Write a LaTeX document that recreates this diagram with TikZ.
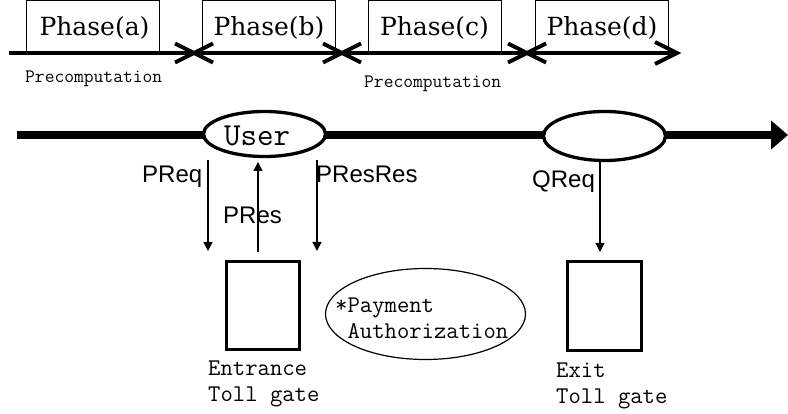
\documentclass[tikz,border=0pt]{standalone}
\usepackage{fontspec}
\newfontfamily\phasefont{DejaVu Serif}
\newfontfamily\sanslab{Liberation Sans}
\usetikzlibrary{arrows.meta,shapes.geometric,calc}
\begin{document}
\begin{tikzpicture}[x=1pt,y=-1pt,
  phasebox/.style={draw,line width=1pt,inner sep=0,minimum width=133pt,minimum height=52pt},
  phasetext/.style={font=\phasefont\fontsize{25}{27}\selectfont,anchor=base,inner sep=0},
  pretext/.style={font=\ttfamily\fontsize{19}{21}\selectfont,anchor=base west,inner sep=0},
  monotext/.style={font=\ttfamily\fontsize{24}{26}\selectfont,anchor=base west,inner sep=0,align=left},
  lbl/.style={font=\sanslab\fontsize{24}{26}\selectfont,anchor=base west,inner sep=0},
  topline/.style={line width=4pt},
  xmark/.style={line width=4pt},
  msg/.style={line width=1.3pt,-{Triangle[length=9pt,width=9pt]}},
  party/.style={ellipse,draw,line width=3.3pt,fill=white,inner sep=0},
  gate/.style={draw,line width=3.3pt,inner sep=0}
]
\useasboundingbox (0,0) rectangle (788,414);
% phase boxes
\node[phasebox] (pa) at (92.5,27) {};
\node[phasebox] (pb) at (268.5,27) {};
\node[phasebox] (pc) at (434.5,27) {};
\node[phasebox] (pd) at (601.5,27) {};
\node[phasetext] (ta) at (94.5,36) {Phase(a)};
\node[phasetext] (tb) at (269,36) {Phase(b)};
\node[phasetext] (tc) at (434.5,36) {Phase(c)};
\node[phasetext] (td) at (602,36) {Phase(d)};
% top line
\coordinate (t0) at (9,53);
\coordinate (t1) at (194,53);
\coordinate (t2) at (342,53);
\coordinate (t3) at (527,53);
\coordinate (t4) at (677,53);
\draw[topline] (t0) -- (t1) -- (t2) -- (t3) -- (t4);
\foreach \p in {t1,t2,t3}{
  \draw[xmark] ($(\p)+(-19,-9.5)$) -- ($(\p)+(19,9.5)$);
  \draw[xmark] ($(\p)+(-19,9.5)$) -- ($(\p)+(19,-9.5)$);
}
\draw[xmark] ($(t4)+(-22,-11)$) -- (t4) -- ($(t4)+(-22,11)$);
\node[pretext] (pre1) at (25,83) {Precomputation};
\node[pretext] (pre2) at (364,88) {Precomputation};
% main time line
\coordinate (m0) at (17,135);
\coordinate (m1) at (788,135);
\draw[line width=8pt,-{Triangle[length=17pt,width=28pt]}] (m0) -- (m1);
\node[party,minimum width=122pt,minimum height=45pt] (user) at (264.5,134) {};
\node[font=\ttfamily\fontsize{32}{34}\selectfont,anchor=base west,inner sep=0] (usertext) at (224,146) {User};
\node[party,minimum width=122pt,minimum height=49pt] (exitparty) at (604.5,136) {};
% gates
\node[gate,minimum width=73pt,minimum height=88pt] (entrance) at (263,305.5) {};
\node[gate,minimum width=74pt,minimum height=89pt] (exit) at (604.5,306) {};
\node[monotext] (entext) at (208,401) {Entrance\\Toll gate};
\node[monotext] (extext) at (556,403) {Exit\\Toll gate};
% payment authorization
\node[ellipse,draw,line width=1.2pt,inner sep=0,minimum width=200pt,minimum height=91pt] (pay) at (425.5,314) {};
\node[monotext] (paytext) at (335,338) {*Payment\\\ Authorization};
% messages
\coordinate (preqA) at (208,160);
\coordinate (preqB) at (208,251);
\coordinate (presA) at (258,252);
\coordinate (presB) at (258,162);
\coordinate (presresA) at (317,160);
\coordinate (presresB) at (317,251);
\coordinate (qreqA) at (600,162);
\coordinate (qreqB) at (600,252);
\draw[msg] (preqA) -- (preqB);
\draw[msg] (presA) -- (presB);
\draw[msg] (presresA) -- (presresB);
\draw[msg] (qreqA) -- (qreqB);
\node[lbl] (lpreq) at (142,183) {PReq};
\node[lbl] (lpres) at (223,224) {PRes};
\node[lbl] (lpresres) at (316,183) {PResRes};
\node[lbl] (lqreq) at (532,188) {QReq};
\end{tikzpicture}
\end{document}
